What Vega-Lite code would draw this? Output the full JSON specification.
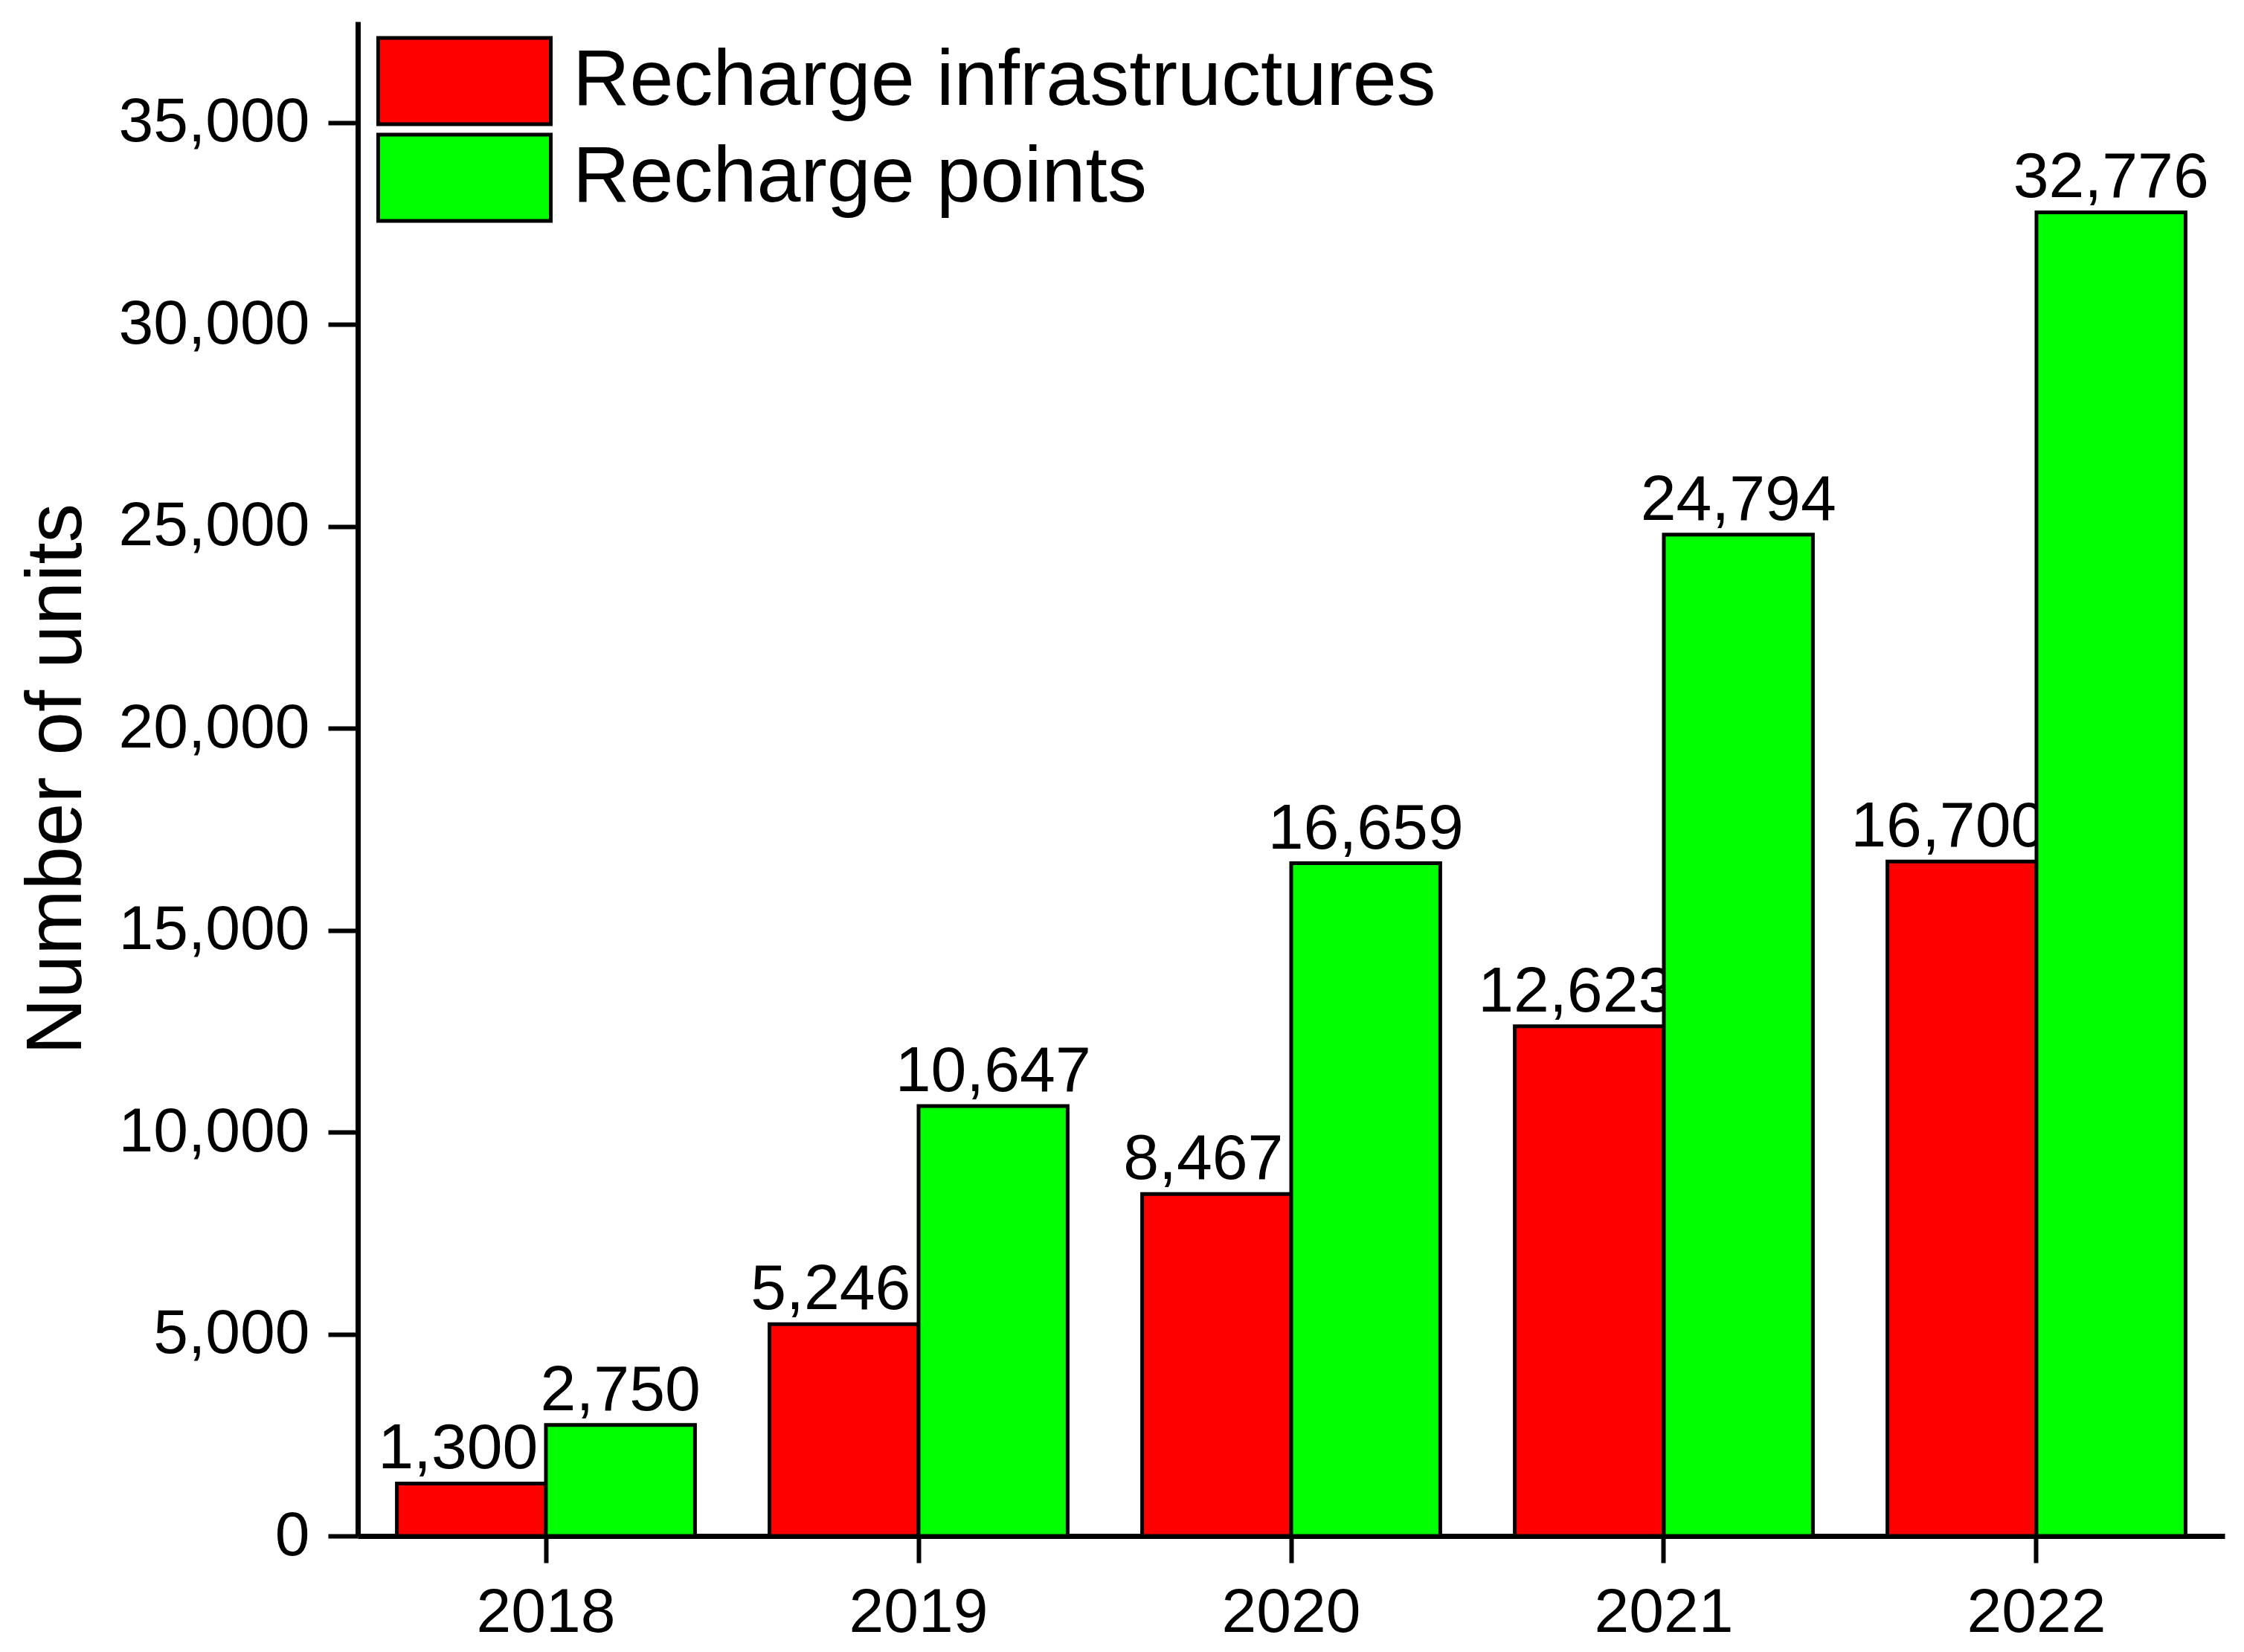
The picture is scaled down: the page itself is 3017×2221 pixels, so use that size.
{
  "$schema": "https://vega.github.io/schema/vega-lite/v6.json",
  "width": 2510,
  "height": 2036,
  "autosize": {"type": "none"},
  "padding": {"left": 481, "top": 29, "right": 26, "bottom": 156},
  "background": "white",
  "config": {
    "view": {"stroke": null},
    "font": "Liberation Sans",
    "axis": {
      "grid": false,
      "domainColor": "black",
      "domainWidth": 7,
      "tickColor": "black",
      "tickWidth": 6,
      "labelColor": "black",
      "labelFont": "Liberation Sans",
      "labelFontSize": 84,
      "labelLimit": 1000,
      "titleColor": "black",
      "titleFont": "Liberation Sans",
      "titleFontWeight": "normal"
    }
  },
  "data": {
    "values": [
      {"year": "2018", "series": "Recharge infrastructures", "units": 1300},
      {"year": "2019", "series": "Recharge infrastructures", "units": 5246},
      {"year": "2020", "series": "Recharge infrastructures", "units": 8467},
      {"year": "2021", "series": "Recharge infrastructures", "units": 12623},
      {"year": "2022", "series": "Recharge infrastructures", "units": 16700},
      {"year": "2018", "series": "Recharge points", "units": 2750},
      {"year": "2019", "series": "Recharge points", "units": 10647},
      {"year": "2020", "series": "Recharge points", "units": 16659},
      {"year": "2021", "series": "Recharge points", "units": 24794},
      {"year": "2022", "series": "Recharge points", "units": 32776}
    ]
  },
  "encoding": {
    "x": {
      "field": "year",
      "type": "nominal",
      "scale": {"paddingInner": 0.2, "paddingOuter": 0.105},
      "axis": {"title": null, "labelAngle": 0, "tickSize": 36, "labelPadding": 26}
    },
    "xOffset": {
      "field": "series",
      "type": "nominal",
      "scale": {"domain": ["Recharge infrastructures", "Recharge points"], "paddingInner": 0, "paddingOuter": 0}
    },
    "y": {
      "field": "units",
      "type": "quantitative",
      "scale": {"domain": [0, 37500], "nice": false},
      "axis": {
        "title": "Number of units",
        "titleFontSize": 105,
        "titleAngle": -90,
        "titleAlign": "center",
        "titleBaseline": "alphabetic",
        "titleX": -373,
        "titleY": 1018,
        "values": [0, 5000, 10000, 15000, 20000, 25000, 30000, 35000],
        "format": ",d",
        "tickSize": 40,
        "labelPadding": 25
      }
    }
  },
  "layer": [
    {
      "transform": [{"filter": "datum.series === 'Recharge infrastructures'"}],
      "mark": {"type": "bar", "stroke": "black", "strokeWidth": 5},
      "encoding": {
        "color": {
          "field": "series",
          "type": "nominal",
          "scale": {"domain": ["Recharge infrastructures", "Recharge points"], "range": ["#ff0000", "#00ff00"]},
          "legend": {
            "title": null,
            "orient": "none",
            "legendX": 25,
            "legendY": 15,
            "padding": 0,
            "symbolType": "M-1,-0.5H1V0.5H-1Z",
            "symbolSize": 53824,
            "symbolStrokeColor": "black",
            "symbolStrokeWidth": 5,
            "symbolOpacity": 1,
            "labelFont": "Liberation Sans",
            "labelFontSize": 106,
            "labelColor": "black",
            "labelOffset": 27,
            "labelLimit": 2000,
            "clipHeight": 130,
            "rowPadding": 0
          }
        }
      }
    },
    {
      "transform": [{"filter": "datum.series === 'Recharge infrastructures'"}],
      "mark": {"type": "text", "baseline": "alphabetic", "dy": -20, "dx": -18, "fontSize": 86, "font": "Liberation Sans", "color": "black"},
      "encoding": {"text": {"field": "units", "type": "quantitative", "format": ","}}
    },
    {
      "transform": [{"filter": "datum.series === 'Recharge points'"}],
      "mark": {"type": "bar", "stroke": "black", "strokeWidth": 5},
      "encoding": {
        "color": {"field": "series", "type": "nominal"}
      }
    },
    {
      "transform": [{"filter": "datum.series === 'Recharge points'"}],
      "mark": {"type": "text", "baseline": "alphabetic", "dy": -20, "fontSize": 86, "font": "Liberation Sans", "color": "black"},
      "encoding": {"text": {"field": "units", "type": "quantitative", "format": ","}}
    }
  ]
}
